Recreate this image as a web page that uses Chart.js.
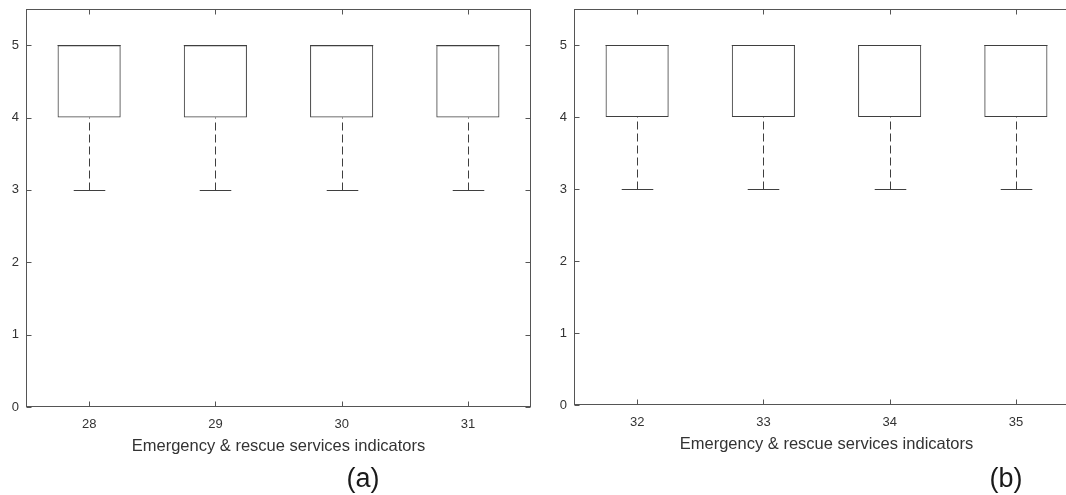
<!DOCTYPE html>
<html>
<head>
  <style>
    body {
        margin: 0;
        width: 1066px;
        height: 495px;
        overflow: hidden;
        background: #fff;
        font-family: "Liberation Sans", Arial, sans-serif;
    }
    .panel {
        position: absolute;
        top: 0;
    }
    .tag {
        position: absolute;
        top: 465px;
        font-size: 27px;
        line-height: 27px;
        color: #1a1a1a;
        transform: translateX(-50%);
    }
  </style>
</head>
<body>
  <canvas id="chartA" class="panel" width="546" height="495" style="left:0"></canvas>
  <canvas id="chartB" class="panel" width="546" height="495" style="left:546px"></canvas>
  <div class="tag" style="left:363px">(a)</div>
  <div class="tag" style="left:1006px">(b)</div>

  <script src="https://cdn.jsdelivr.net/npm/chart.js"></script>
  <script>
    // panel (a)
    const labelsA = ['28', '29', '30', '31'];
    const q1A = [4, 4, 4, 4];
    const q3A = [5, 5, 5, 5];
    const medA = [5, 5, 5, 5];
    const lowA = [3, 3, 3, 3];
    const highA = [5, 5, 5, 5];

    // panel (b)
    const labelsB = ['32', '33', '34', '35'];
    const q1B = [4, 4, 4, 4];
    const q3B = [5, 5, 5, 5];
    const medB = [5, 5, 5, 5];
    const lowB = [3, 3, 3, 3];
    const highB = [5, 5, 5, 5];

    const yTicksMax = 5.5;
    const xTitle = 'Emergency & rescue services indicators';

    const boxColor = '#3f3f3f';
    const axisColor = '#555555';
    const textColor = '#333333';

    Chart.defaults.font.family = '"Liberation Sans", Arial, sans-serif';

    function hline(ctx, x1, x2, y) {
        ctx.beginPath();
        ctx.moveTo(x1, y);
        ctx.lineTo(x2, y);
        ctx.stroke();
    }
    function vline(ctx, x, y1, y2) {
        ctx.beginPath();
        ctx.moveTo(x, y1);
        ctx.lineTo(x, y2);
        ctx.stroke();
    }

    // whiskers, caps, medians, plus a MATLAB style frame with inward ticks
    const boxExtras = {
        id: 'boxExtras',
        afterDatasetsDraw(chart, args, opts) {
            const ctx = chart.ctx;
            const y = chart.scales.y;
            const meta = chart.getDatasetMeta(0);
            ctx.save();
            ctx.strokeStyle = boxColor;
            ctx.lineWidth = 1;
            opts.low.forEach((lo, i) => {
                const bar = meta.data[i];
                const cx = Math.round(bar.x) + 0.5;
                const capHalf = bar.width / 4;
                const yLo = Math.round(y.getPixelForValue(lo)) + 0.5;
                const yHi = Math.round(y.getPixelForValue(opts.high[i])) + 0.5;
                const yQ1 = y.getPixelForValue(opts.q1[i]);
                const yQ3 = y.getPixelForValue(opts.q3[i]);
                const yMed = Math.round(y.getPixelForValue(opts.med[i])) + 0.5;

                ctx.setLineDash([8, 4]);
                vline(ctx, cx, yLo, yQ1);
                vline(ctx, cx, yHi, yQ3);
                ctx.setLineDash([]);
                hline(ctx, cx - capHalf, cx + capHalf, yLo);
                hline(ctx, cx - capHalf, cx + capHalf, yHi);
                hline(ctx, bar.x - bar.width / 2, bar.x + bar.width / 2, yMed);
            });
            ctx.restore();
        },
        afterDraw(chart) {
            const ctx = chart.ctx;
            const a = chart.chartArea;
            const {x, y} = chart.scales;
            const L = Math.round(a.left) + 0.5;
            const R = Math.round(a.right) - 0.5;
            const T = Math.round(a.top) + 0.5;
            const B = Math.round(a.bottom) - 0.5;
            const len = 5;
            ctx.save();
            ctx.strokeStyle = axisColor;
            ctx.lineWidth = 1;
            ctx.strokeRect(L, T, R - L, B - T);
            x.ticks.forEach((t, i) => {
                const px = Math.round(x.getPixelForTick(i)) + 0.5;
                vline(ctx, px, B, B - len);
                vline(ctx, px, T, T + len);
            });
            y.ticks.forEach((t, i) => {
                const py = Math.round(y.getPixelForTick(i)) + 0.5;
                hline(ctx, L, L + len, py);
                hline(ctx, R, R - len, py);
            });
            ctx.restore();
        }
    };

    function makeChart(id, labels, q1, q3, med, low, high, yWidth, pad) {
        return new Chart(document.getElementById(id), {
            type: 'bar',
            data: {
                labels: labels,
                datasets: [{
                    data: labels.map((_, i) => [q1[i], q3[i]]),
                    backgroundColor: 'rgba(255,255,255,0)',
                    borderColor: boxColor,
                    borderWidth: 1,
                    borderSkipped: false,
                    barPercentage: 0.5,
                    categoryPercentage: 1
                }]
            },
            options: {
                responsive: false,
                animation: false,
                events: [],
                layout: { padding: pad },
                scales: {
                    x: {
                        grid: { display: false, drawTicks: false },
                        border: { display: false },
                        ticks: { color: textColor, font: { size: 13 }, padding: 10 },
                        title: {
                            display: true,
                            text: xTitle,
                            color: textColor,
                            font: { size: 16.5 },
                            padding: { top: 0, bottom: 0 }
                        },
                        afterFit(s) {
                            s.height = 49;
                            s.paddingLeft = 0;
                            s.paddingRight = 0;
                        }
                    },
                    y: {
                        min: 0,
                        max: yTicksMax,
                        grid: { display: false, drawTicks: false },
                        border: { display: false },
                        ticks: {
                            stepSize: 1,
                            includeBounds: false,
                            color: textColor,
                            font: { size: 13 },
                            padding: 7
                        },
                        afterFit(s) {
                            s.width = yWidth;
                            s.paddingTop = 0;
                            s.paddingBottom = 0;
                        }
                    }
                },
                plugins: {
                    legend: { display: false },
                    tooltip: { enabled: false },
                    boxExtras: { q1: q1, q3: q3, med: med, low: low, high: high }
                }
            },
            plugins: [boxExtras]
        });
    }

    makeChart('chartA', labelsA, q1A, q3A, medA, lowA, highA, 26,
        { top: 9, left: 0, right: 15, bottom: 39 });
    makeChart('chartB', labelsB, q1B, q3B, medB, lowB, highB, 28,
        { top: 9, left: 0, right: 13, bottom: 41 });
  </script>
</body>
</html>
